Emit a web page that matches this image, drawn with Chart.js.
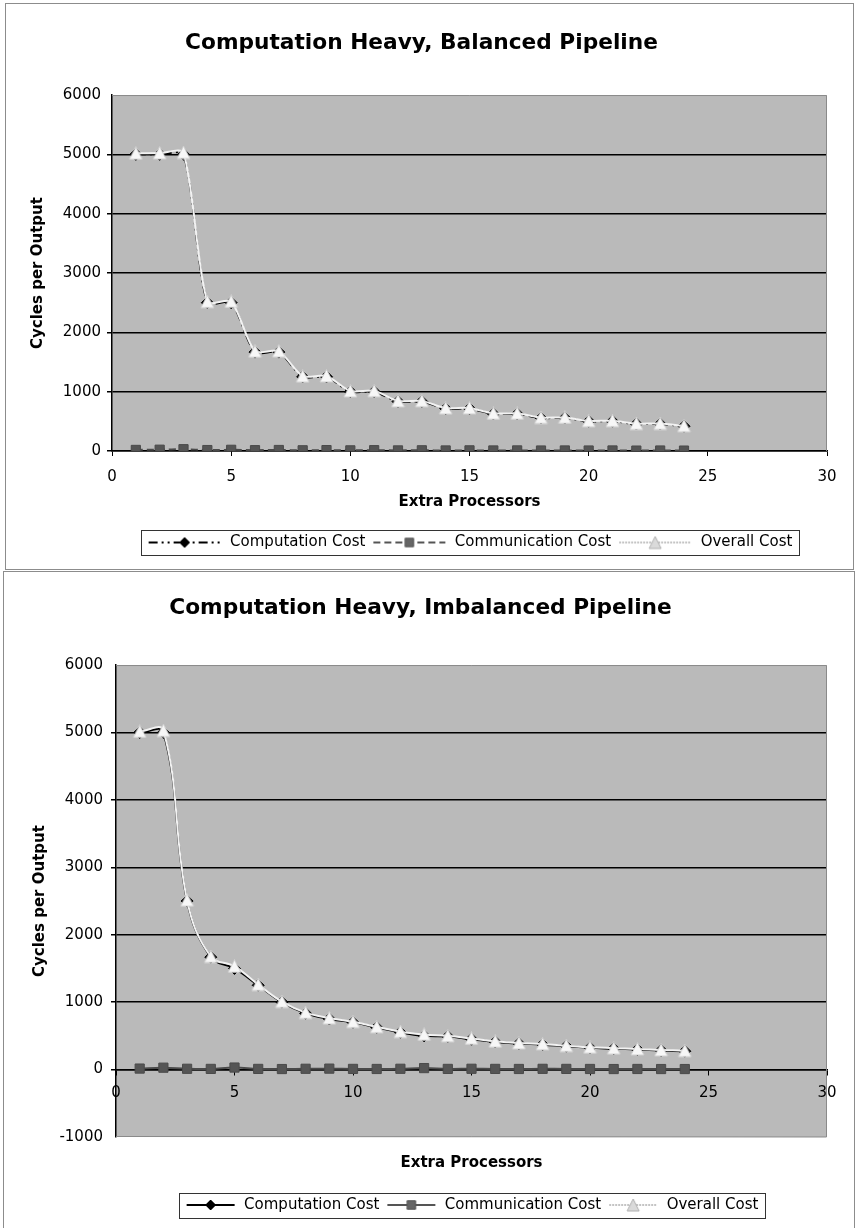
<!DOCTYPE html>
<html>
<head>
<meta charset="utf-8">
<title>Computation Heavy Pipelines</title>
<script src="https://cdn.jsdelivr.net/npm/chart.js@4.4.1/dist/chart.umd.min.js"></script>
<style>
    html, body { margin: 0; padding: 0; background: #fff; }
    body { position: relative; width: 857px; height: 1228px; overflow: hidden; }
    .panel { position: absolute; border: 1px solid #8c8c8c; box-sizing: border-box; }
    #panelTop { left: 5px; top: 3px; width: 849px; height: 567px; }
    #panelBottom { left: 3px; top: 571px; width: 852px; height: 660px; }
    canvas { position: absolute; }
    #balancedChart { left: 16px; top: 3px; }
    #imbalancedChart { left: 14px; top: 571px; }
</style>
</head>
<body>
<div class="panel" id="panelTop"></div>
<div class="panel" id="panelBottom"></div>
<canvas id="balancedChart" width="837" height="566"></canvas>
<canvas id="imbalancedChart" width="840" height="657"></canvas>
<script>
// extra processors on the x axis
const processors = [1, 2, 3, 4, 5, 6, 7, 8, 9, 10, 11, 12, 13, 14, 15, 16, 17, 18, 19, 20, 21, 22, 23, 24];

// balanced pipeline, cycles per output
const balancedComputation = [5000, 5000, 5000, 2500, 2500, 1667, 1667, 1250, 1250, 1000, 1000, 833, 833, 714, 714, 625, 625, 556, 556, 500, 500, 455, 455, 417];
const balancedCommunication = [18, 22, 30, 16, 20, 14, 17, 12, 15, 11, 14, 10, 12, 9, 11, 9, 10, 8, 9, 8, 9, 7, 8, 7];
const balancedOverall = [5018, 5022, 5030, 2516, 2520, 1681, 1684, 1262, 1265, 1011, 1014, 843, 845, 723, 725, 634, 635, 564, 565, 508, 509, 462, 463, 424];

// imbalanced pipeline, cycles per output
const imbalancedComputation = [5000, 5000, 2500, 1667, 1500, 1250, 1000, 833, 750, 700, 625, 550, 500, 490, 450, 410, 385, 370, 345, 322, 310, 297, 283, 272];
const imbalancedCommunication = [15, 28, 12, 10, 30, 10, 8, 12, 14, 10, 9, 12, 22, 10, 12, 10, 9, 11, 10, 9, 8, 9, 8, 8];
const imbalancedOverall = [5015, 5028, 2512, 1677, 1530, 1260, 1008, 845, 764, 710, 634, 562, 522, 500, 462, 420, 394, 381, 355, 331, 318, 306, 291, 280];

const seriesNames = ["Computation Cost", "Communication Cost", "Overall Cost"];
const xTickValues = [0, 5, 10, 15, 20, 25, 30];
const yTicksBalanced = [0, 1000, 2000, 3000, 4000, 5000, 6000];
const yTicksImbalanced = [-1000, 0, 1000, 2000, 3000, 4000, 5000, 6000];

Chart.defaults.font.family = "'DejaVu Sans', Verdana, sans-serif";
Chart.defaults.color = "#000";

function toPoints(values) {
    return processors.map((p, i) => ({ x: p, y: values[i] }));
}

function setTicks(values) {
    return function(axis) {
        axis.ticks = values.map((v) => ({ value: v }));
    };
}

function plainNumber(value) {
    return String(value);
}

// little marker shapes, used by the legend samples
function drawMarker(ctx, style, x, y, r) {
    ctx.beginPath();
    if (style === "rectRot") {
        ctx.moveTo(x, y - r);
        ctx.lineTo(x + r, y);
        ctx.lineTo(x, y + r);
        ctx.lineTo(x - r, y);
    } else if (style === "rect") {
        let s = r * Math.SQRT1_2;
        ctx.rect(x - s, y - s, 2 * s, 2 * s);
    } else {
        // triangle sitting in a centred box, apex up
        ctx.moveTo(x, y - r);
        ctx.lineTo(x + r, y + r);
        ctx.lineTo(x - r, y + r);
    }
    ctx.closePath();
    ctx.fill();
    ctx.stroke();
}

// triangle marker for the overall cost, centred on its box rather than its centroid
function triangleMarker() {
    const c = document.createElement("canvas");
    c.width = 15;
    c.height = 14;
    const ctx = c.getContext("2d");
    ctx.fillStyle = "#f7f7f7";
    ctx.strokeStyle = "#cfcfcf";
    ctx.lineWidth = 1;
    ctx.beginPath();
    ctx.moveTo(7.5, 0.5);
    ctx.lineTo(14, 13);
    ctx.lineTo(1, 13);
    ctx.closePath();
    ctx.fill();
    ctx.stroke();
    return c;
}

function legendSample(width, line, marker) {
    const c = document.createElement("canvas");
    c.width = width;
    c.height = 16;
    const ctx = c.getContext("2d");
    ctx.strokeStyle = line.color;
    ctx.lineWidth = line.width;
    ctx.setLineDash(line.dash);
    ctx.beginPath();
    ctx.moveTo(2, 8);
    ctx.lineTo(width - 2, 8);
    ctx.stroke();
    ctx.setLineDash([]);
    ctx.fillStyle = marker.fill;
    ctx.strokeStyle = marker.stroke;
    ctx.lineWidth = 1;
    drawMarker(ctx, marker.style, width / 2, 8, marker.radius);
    return c;
}

function costDatasets(computation, communication, overall, dashed) {
    return [
        {
            label: seriesNames[0],
            data: toPoints(computation),
            xAxisID: "x",
            borderColor: "#000",
            backgroundColor: "#000",
            borderWidth: 2,
            borderDash: dashed ? [10, 4, 2, 4, 2, 4] : [],
            pointStyle: "rectRot",
            pointRadius: 6,
            pointBorderWidth: 1,
            order: 2,
        },
        {
            label: seriesNames[1],
            data: toPoints(communication),
            xAxisID: "x",
            borderColor: "#4a4a4a",
            backgroundColor: "#555",
            borderWidth: 2,
            borderDash: dashed ? [7, 4] : [],
            pointStyle: "rect",
            pointRadius: 6.5,
            pointBorderWidth: 1,
            order: 1,
        },
        {
            label: seriesNames[2],
            data: toPoints(overall),
            xAxisID: "x",
            borderColor: "#f2f2f2",
            backgroundColor: "#f7f7f7",
            borderWidth: 2,
            pointStyle: triangleMarker(),
            pointRadius: 7,
            order: 0,
        },
    ];
}

function legendSamples(width, dashed) {
    return [
        legendSample(width, { color: "#000", width: 2, dash: dashed ? [9, 4, 2, 4, 2, 4] : [] },
            { style: "rectRot", radius: 5, fill: "#000", stroke: "#000" }),
        legendSample(width, { color: "#555", width: 2, dash: dashed ? [7, 4] : [] },
            { style: "rect", radius: 6, fill: "#666", stroke: "#555" }),
        legendSample(width, { color: "#c4c4c4", width: 2, dash: [2, 1] },
            { style: "triangle", radius: 6, fill: "#dadada", stroke: "#b0b0b0" }),
    ];
}

// gray plot area, its light frame and the box round the legend
const plotFrame = {
    id: "plotFrame",
    beforeDraw(chart) {
        const a = chart.chartArea;
        const ctx = chart.ctx;
        ctx.save();
        ctx.fillStyle = "#bababa";
        ctx.fillRect(a.left, a.top, a.right - a.left, a.bottom - a.top);
        ctx.restore();
    },
    beforeDatasetsDraw(chart) {
        const a = chart.chartArea;
        const ctx = chart.ctx;
        ctx.save();
        ctx.strokeStyle = "#8a8a8a";
        ctx.lineWidth = 1;
        ctx.beginPath();
        ctx.moveTo(a.left, a.top + 0.5);
        ctx.lineTo(a.right - 0.5, a.top + 0.5);
        ctx.lineTo(a.right - 0.5, a.bottom);
        if (chart.scales.y.min < 0) {
            ctx.lineTo(a.left, a.bottom - 0.5);
        }
        ctx.stroke();
        ctx.restore();
    },
    afterDraw(chart) {
        const boxes = chart.legend.legendHitBoxes;
        if (!boxes || !boxes.length) return;
        const left = Math.min(...boxes.map((b) => b.left)) - 6;
        const right = Math.max(...boxes.map((b) => b.left + b.width)) + 6;
        const top = boxes[0].top - 5;
        const ctx = chart.ctx;
        ctx.save();
        ctx.strokeStyle = "#333";
        ctx.lineWidth = 1;
        ctx.strokeRect(Math.round(left) + 0.5, Math.round(top) + 0.5, Math.round(right - left), boxes[0].height + 10);
        ctx.restore();
    },
};

function gridColor(edgeValues) {
    return function(context) {
        if (context.tick && edgeValues.includes(context.tick.value)) return "rgba(0,0,0,0)";
        return "#000";
    };
}

function legendOptions(samples, sampleWidth) {
    return {
        position: "bottom",
        fullSize: false,
        labels: {
            usePointStyle: true,
            pointStyleWidth: sampleWidth,
            padding: 6,
            font: { size: 15 },
            color: "#000",
            generateLabels: (chart) => chart.data.datasets.map((dataset, index) => ({
                text: dataset.label,
                pointStyle: samples[index],
                datasetIndex: index,
                hidden: false,
                lineWidth: 0,
                fillStyle: "rgba(0,0,0,0)",
                strokeStyle: "rgba(0,0,0,0)",
            })),
        },
    };
}

const balancedConfig = {
    type: "line",
    data: {
        datasets: costDatasets(balancedComputation, balancedCommunication, balancedOverall, true),
    },
    options: {
        responsive: false,
        devicePixelRatio: 1,
        animation: false,
        events: [],
        elements: { line: { tension: 0.25 } },
        layout: { padding: { top: 0, left: 0, right: 26, bottom: 9 } },
        plugins: {
            title: {
                display: true,
                text: "Computation Heavy, Balanced Pipeline",
                font: { size: 21.7, weight: "bold" },
                color: "#000",
                padding: { top: 27, bottom: 39 },
            },
            legend: legendOptions(legendSamples(76, true), 76),
            tooltip: { enabled: false },
        },
        scales: {
            x: {
                type: "linear",
                min: 0,
                max: 30,
                afterBuildTicks: setTicks(xTickValues),
                ticks: { padding: 12, font: { size: 15 }, color: "#000", maxRotation: 0, callback: plainNumber },
                grid: { drawOnChartArea: false, drawTicks: true, tickLength: 5, color: "#000" },
                border: { color: "#000", width: 1.5 },
                title: {
                    display: true,
                    text: "Extra Processors",
                    font: { size: 15, weight: "bold" },
                    color: "#000",
                    padding: { top: 0, bottom: 18 },
                },
                afterFit: (scale) => { scale.height = 78; },
            },
            y: {
                type: "linear",
                min: 0,
                max: 6000,
                afterBuildTicks: setTicks(yTicksBalanced),
                ticks: { padding: 6, font: { size: 15 }, color: "#000", callback: plainNumber },
                grid: { color: gridColor([6000]), lineWidth: 1.5, tickLength: 5 },
                border: { color: "#000", width: 1.5 },
                title: {
                    display: true,
                    text: "Cycles per Output",
                    font: { size: 15, weight: "bold" },
                    color: "#000",
                    padding: { top: 13, bottom: 0 },
                },
                afterFit: (scale) => { scale.width = 96; },
            },
        },
    },
    plugins: [plotFrame],
};

const imbalancedConfig = {
    type: "line",
    data: {
        datasets: costDatasets(imbalancedComputation, imbalancedCommunication, imbalancedOverall, false),
    },
    options: {
        responsive: false,
        devicePixelRatio: 1,
        animation: false,
        events: [],
        elements: { line: { tension: 0.4 } },
        layout: { padding: { top: 0, left: 0, right: 27, bottom: 5.5 } },
        plugins: {
            title: {
                display: true,
                text: "Computation Heavy, Imbalanced Pipeline",
                font: { size: 21.7, weight: "bold" },
                color: "#000",
                padding: { top: 24, bottom: 44 },
            },
            legend: legendOptions(legendSamples(52, false), 52),
            tooltip: { enabled: false },
        },
        scales: {
            // value axis crosses at zero, so the processor axis sits inside the plot
            x: {
                type: "linear",
                position: { y: 0 },
                min: 0,
                max: 30,
                afterBuildTicks: setTicks(xTickValues),
                ticks: { padding: 10, font: { size: 15 }, color: "#000", maxRotation: 0, callback: plainNumber },
                grid: { drawOnChartArea: false, drawTicks: true, tickLength: 5, color: "#000" },
                border: { color: "#000", width: 1.5 },
            },
            // carries only the axis title below the plot
            x2: {
                type: "linear",
                position: "bottom",
                min: 0,
                max: 30,
                ticks: { display: false },
                grid: { display: false },
                border: { display: false },
                title: {
                    display: true,
                    text: "Extra Processors",
                    font: { size: 15, weight: "bold" },
                    color: "#000",
                    padding: { top: 0, bottom: 19.5 },
                },
                afterFit: (scale) => { scale.height = 54.5; },
            },
            y: {
                type: "linear",
                min: -1000,
                max: 6000,
                afterBuildTicks: setTicks(yTicksImbalanced),
                ticks: { padding: 8, font: { size: 15 }, color: "#000", callback: plainNumber },
                grid: { color: gridColor([6000, -1000]), lineWidth: 1.5, tickLength: 5 },
                border: { color: "#000", width: 1.5 },
                title: {
                    display: true,
                    text: "Cycles per Output",
                    font: { size: 15, weight: "bold" },
                    color: "#000",
                    padding: { top: 17, bottom: 0 },
                },
                afterFit: (scale) => { scale.width = 102; },
            },
        },
    },
    plugins: [plotFrame],
};

const balancedChart = new Chart(document.getElementById("balancedChart"), balancedConfig);
const imbalancedChart = new Chart(document.getElementById("imbalancedChart"), imbalancedConfig);
</script>
</body>
</html>
